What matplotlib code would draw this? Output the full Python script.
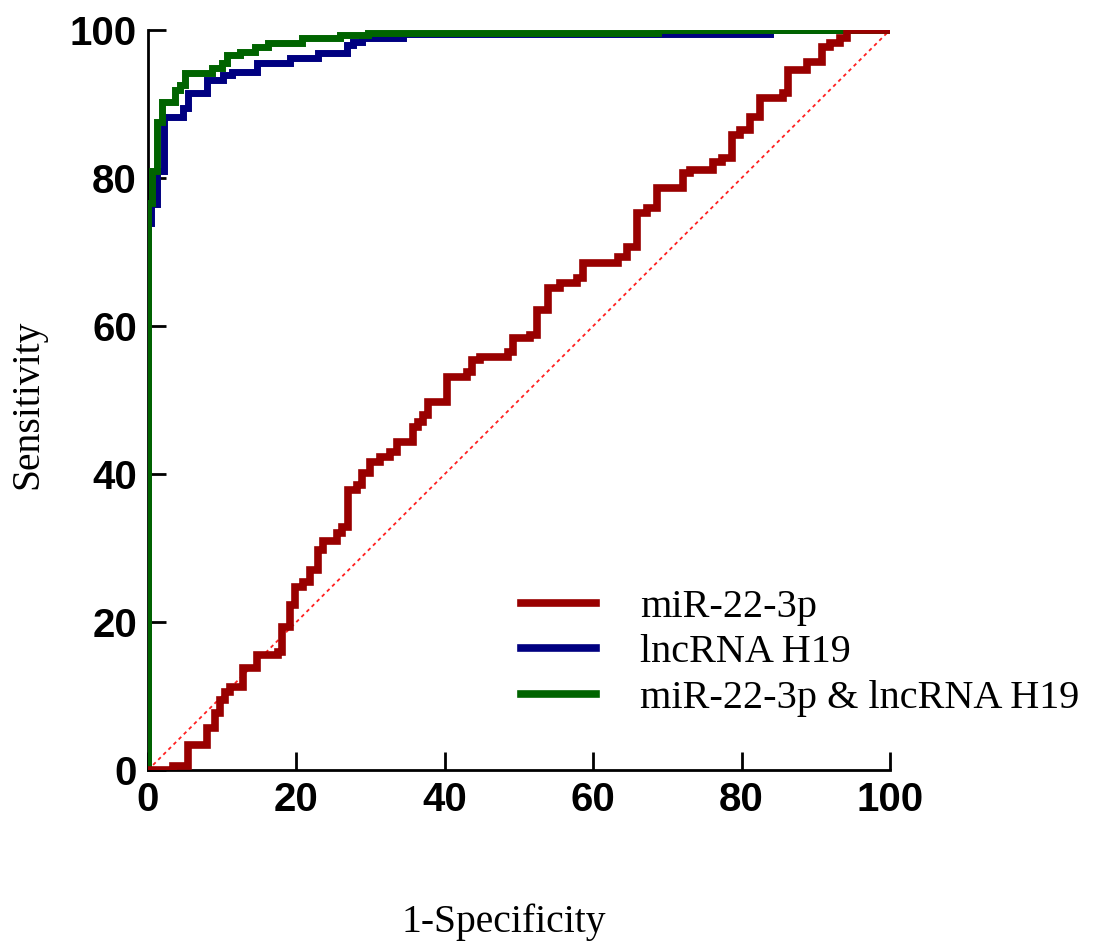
import matplotlib
matplotlib.use('Agg')
import matplotlib.pyplot as plt

# ROC step points (1-specificity %, sensitivity %)
red_x = [0, 3.4, 5.4, 8.0, 9.0, 9.7, 10.4, 11.1, 12.8, 14.7, 17.5, 18.1, 19.1, 19.8,
         20.9, 21.8, 22.9, 23.6, 25.5, 26.1, 27.0, 28.2, 28.8, 29.9, 31.3, 32.6, 33.6,
         35.7, 36.4, 37.1, 37.7, 40.3, 43.0, 43.7, 44.7, 48.5, 49.2, 51.5, 52.4, 53.9,
         55.5, 57.8, 58.6, 63.3, 64.6, 65.9, 67.3, 68.6, 72.1, 73.0, 76.1, 77.4, 78.7,
         79.8, 81.1, 82.5, 85.6, 86.3, 88.8, 90.8, 91.9, 93.3, 94.2, 100]
red_y = [0, 0.5, 3.4, 5.7, 7.7, 9.5, 10.5, 11.2, 13.8, 15.5, 15.9, 19.3, 22.3, 24.7,
         25.4, 27.0, 29.7, 31.0, 32.0, 32.8, 37.8, 38.5, 40.1, 41.6, 42.3, 43.0, 44.3,
         46.4, 47.0, 48.0, 49.7, 53.1, 53.8, 55.4, 55.8, 56.5, 58.4, 58.8, 62.2, 65.1,
         65.8, 66.5, 68.5, 69.3, 70.7, 75.3, 76.0, 78.6, 80.7, 81.1, 82.2, 82.7, 85.8,
         86.5, 88.2, 90.8, 91.5, 94.6, 95.7, 97.7, 98.2, 98.9, 100, 100]

blue_x = [0, 0, 0.4, 1.2, 2.2, 4.7, 5.4, 8.0, 10.1, 11.3, 14.7, 19.1, 22.9, 26.8,
          27.6, 28.8, 34.4, 83.8, 100]
blue_y = [0, 73.9, 76.5, 81.0, 88.2, 89.5, 91.5, 93.2, 93.9, 94.3, 95.5, 96.2, 96.9,
          98.0, 98.4, 98.9, 99.5, 100, 100]

green_x = [0, 0, 0.5, 1.2, 1.9, 3.6, 4.3, 5.0, 8.6, 10.0, 10.6, 12.4, 14.4, 16.2,
           20.8, 25.9, 29.6, 68.7, 100]
green_y = [0, 76.6, 81.0, 87.5, 90.3, 91.9, 92.6, 94.2, 94.9, 95.5, 96.6, 97.0, 97.7,
           98.2, 98.9, 99.3, 99.6, 100, 100]

labels = ['miR-22-3p', 'lncRNA H19', 'miR-22-3p & lncRNA H19']
colors = ['#990000', '#000080', '#006400']
ticks = [0, 20, 40, 60, 80, 100]

W, H = 1100, 947
fig = plt.figure(figsize=(W / 100, H / 100), dpi=100)
ax = fig.add_axes([148 / W, (H - 770) / H, 742 / W, 740 / H])

ax.plot([0, 100], [0, 100], color='#ff2020', lw=1.3, ls=(0, (2, 2)), zorder=1)
lb, = ax.plot(blue_x, blue_y, drawstyle='steps-post', color=colors[1], lw=5,
              solid_joinstyle='miter', zorder=2)
lg, = ax.plot(green_x, green_y, drawstyle='steps-post', color=colors[2], lw=5,
              solid_joinstyle='miter', zorder=3)
lr, = ax.plot(red_x, red_y, drawstyle='steps-post', color=colors[0], lw=5.5,
              solid_joinstyle='miter', zorder=4)

ax.set_xlim(0, 100)
ax.set_ylim(0, 100)
ax.set_xticks(ticks)
ax.set_yticks(ticks)
for s in ['top', 'right']:
    ax.spines[s].set_visible(False)
for s in ['left', 'bottom']:
    ax.spines[s].set_linewidth(2)
ax.tick_params(direction='in', length=13, width=2, pad=8)
for t in ax.get_xticklabels() + ax.get_yticklabels():
    t.set_fontfamily('Liberation Sans')
    t.set_fontweight('bold')
    t.set_fontsize(29)

serif = 'Liberation Serif'
fig.text(504 / W, 1 - 922 / H, '1-Specificity', family=serif, fontsize=28.5,
         ha='center', va='center')
fig.text(28 / W, 1 - 404 / H, 'Sensitivity', family=serif, fontsize=28.5,
         rotation=90, ha='center', va='center')

leg = ax.legend([lr, lb, lg], labels, loc='upper left',
                bbox_to_anchor=(521 / W, 1 - 589 / H), bbox_transform=fig.transFigure,
                frameon=False, prop={'family': serif, 'size': 29},
                handlelength=1.85, handletextpad=1.1, labelspacing=0.2,
                borderpad=0, borderaxespad=0)
for h in leg.get_lines():
    h.set_linewidth(5.5)

fig.savefig('out.png', dpi=100)
